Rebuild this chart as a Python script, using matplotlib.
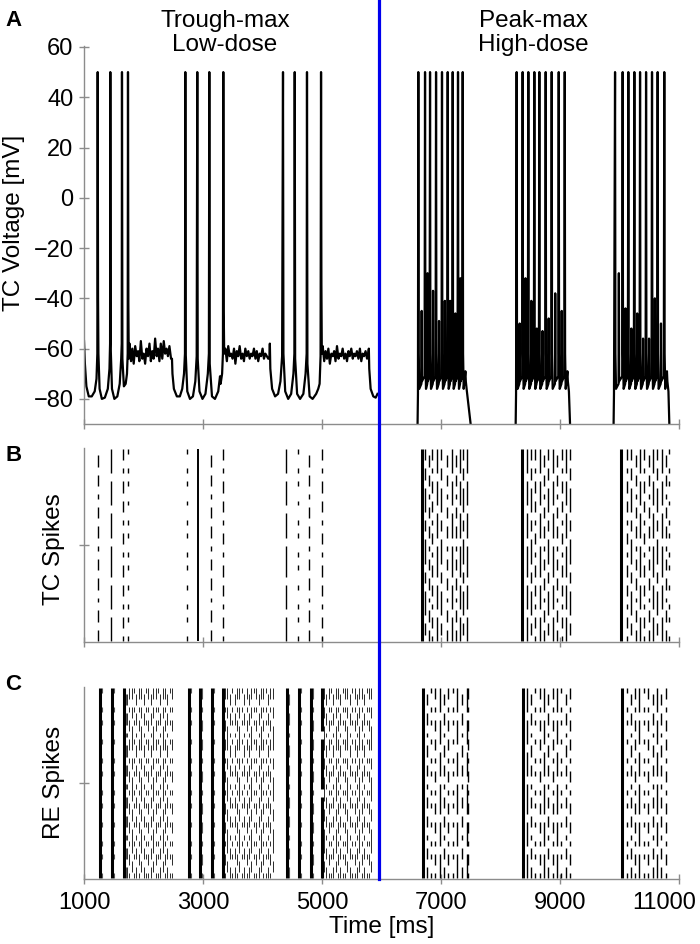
import numpy as np
import matplotlib.pyplot as plt
from matplotlib.lines import Line2D
from matplotlib.transforms import blended_transform_factory, ScaledTranslation

plt.rcParams['font.family'] = ['Liberation Sans', 'DejaVu Sans']

GREY = '#8c8c8c'
x_ticks = [1000, 3000, 5000, 7000, 9000, 11000]
v_ticks = [-80, -60, -40, -20, 0, 20, 40, 60]
switch_time = 5950          # blue line: low-dose -> high-dose

# ---------------- panel A, low dose (trough-max): TC voltage trace ----------------
low_t = [1000, 1015, 1040, 1080, 1130, 1180, 1210, 1224, 1230, 1236, 1242, 1262, 1300, 1350, 1400, 1428, 1438,
         1442, 1449, 1470, 1510, 1560, 1600, 1625, 1634, 1638, 1645, 1670, 1700, 1722, 1734, 1739, 1745, 1752,
         # plateau 1
         1765, 1790, 1812, 1835, 1860, 1885, 1908, 1930, 1955, 1980, 2003, 2027, 2050, 2075, 2100, 2123, 2147,
         2170, 2195, 2220, 2243, 2267, 2290, 2315, 2340, 2363, 2387, 2410, 2435, 2462,
         # burst 2
         2478, 2486, 2510, 2560, 2610, 2650, 2680, 2696, 2702, 2709, 2735, 2780, 2830, 2870, 2893, 2903, 2910,
         2940, 2990, 3040, 3080, 3098, 3105, 3112, 3150, 3200, 3255, 3285, 3295, 3320, 3334, 3340, 3347, 3355,
         # plateau 2
         3375, 3400, 3423, 3447, 3470, 3495, 3520, 3543, 3567, 3590, 3615, 3640, 3663, 3687, 3710, 3735, 3760,
         3783, 3807, 3830, 3855, 3880, 3903, 3927, 3950, 3975, 4000, 4023, 4047, 4070, 4095,
         # burst 3
         4115, 4122, 4130, 4160, 4210, 4260, 4300, 4328, 4343, 4350, 4380, 4430, 4480, 4518, 4534, 4540, 4547,
         4580, 4630, 4685, 4722, 4740, 4746, 4753, 4790, 4840, 4900, 4935, 4958, 4974, 4982, 4988, 4995,
         # plateau 3
         5010, 5035, 5058, 5082, 5105, 5130, 5155, 5178, 5202, 5225, 5250, 5275, 5298, 5322, 5345, 5370, 5395,
         5418, 5442, 5465, 5490, 5515, 5538, 5562, 5585, 5610, 5635, 5658, 5682, 5705, 5730, 5755,
         5775, 5785, 5792, 5815, 5860, 5900, 5930]
low_v = [-57, -66, -75, -79, -79, -77, -72, -62, 50, -40, -62, -76, -80, -79.5, -76, -68, -58,
         50, -60, -76, -80, -79, -74, -64, -58, 50, -64, -75, -74, -70, -62, 50, -42, -64,
         -58, -65, -60, -66, -59, -63, -61, -65, -57, -64, -62, -66, -60, -63, -58, -65, -61,
         -64, -56, -63, -60, -65, -58, -64, -57, -62, -60, -63, -59, -64,
         -64, -70, -76, -79, -79, -76, -70, -62, 50, -62, -77, -80, -79, -73, -63, 50, -64,
         -77, -80, -78, -70, -62, 50, -66, -79, -80, -77, -71, -74, -70, -62, 50, -45, -62,
         -60, -65, -59, -63, -62, -64, -60, -66, -61, -63, -59, -64, -62, -65, -60, -63, -61,
         -64, -62, -63, -60, -64, -61, -65, -62, -63, -60, -64, -62, -63, -64,
         -64, -58, -68, -76, -79, -78, -73, -63, 50, -62, -77, -80, -78, -70, -62, 50, -64,
         -78, -80, -78, -70, -62, 50, -66, -79, -80, -78, -76, -74, -63, 50, -34, -62,
         -59, -65, -61, -64, -60, -66, -62, -63, -61, -65, -59, -64, -62, -63, -60, -64, -62,
         -65, -61, -63, -60, -64, -62, -63, -61, -64, -60, -65, -62, -63, -61, -64,
         -62, -60, -68, -76, -79, -79.5, -78]

# ---------------- panel A, high dose (peak-max) ----------------
high_onsets = [6604, 8252, 9897]
high_offsets = [7495, 9165, 10833]
high_spikes = [[6616, 6729, 6813, 6914, 7014, 7110, 7194, 7283, 7362],
               [8268, 8369, 8464, 8565, 8649, 8756, 8857, 8975, 9076],
               [9921, 10049, 10144, 10245, 10341, 10442, 10542, 10637, 10748]]
high_partials = [[-45, -30, -37, -49, -41, -41, -46, -32],
                 [-50, -32, -41, -52, -53, -48, -38, -45],
                 [-30, -44, -52, -46, -56, -56, -40, -50]]

# ---------------- rasters ----------------
N_ROWS = 30
PATTERNS = {
    'S': '1' * 30,
    's': '1' * 30,
    'g': '1111111111' + '1110111111' + '1101111111',
    'a': '1111011110' + '1111101111' + '0111101111',
    'b': '1101101011' + '0110101101' + '1010110110',
    'c': '1011010110' + '1101011010' + '1101101011',
    'd': '1001010010' + '0101001010' + '0100101001',
    'e': '0110111101' + '1011110110' + '1111011011',
}
KIND_LW = {'S': 2.2, 'g': 2.2, 's': 1.4}

tc_low_t = [1240, 1447, 1649, 1733, 2725, 2920, 3128, 3340, 4388, 4590, 4785, 4993]
tc_low_kinds = 'bacd' + 'dsbc' + 'adbc'
tc_high_t = [6683, 6735, 6790, 6845, 6930, 7000, 7102, 7176, 7249, 7316, 7371, 7439,
             8353, 8437, 8504, 8576, 8660, 8727, 8800, 8873, 8941, 9025, 9097, 9164,
             10016, 10117, 10184, 10268, 10341, 10413, 10497, 10564, 10631, 10705, 10772, 10833]
tc_high_kinds = 'Sebcaebabaea' + 'Saecabeabcae' + 'Scebacbaeabd'

re_low_t = [1262, 1474, 1672, 2758, 2949, 3150, 3330, 4410, 4612, 4807, 4992]
re_low_kinds = 'SSS' + 'SSSS' + 'SSSg'
re_faint_t = [1300, 1508, 1700, 2790, 2980, 3180, 4440, 4645, 4840]
re_faint_kinds = 'ddbdcdbdc'
re_tonic_t = [1722, 1760, 1801, 1843, 1880, 1921, 1962, 2001, 2043, 2082, 2121, 2163, 2204, 2242, 2281,
              2322, 2364, 2402, 2441, 2480,
              3372, 3410, 3452, 3491, 3530, 3572, 3611, 3650, 3692, 3731, 3770, 3812, 3851, 3890, 3932,
              3971, 4010, 4052, 4091, 4130, 4168,
              5028, 5066, 5108, 5147, 5186, 5228, 5267, 5306, 5348, 5387, 5426, 5468, 5507, 5546, 5588,
              5627, 5666, 5708, 5747, 5786, 5825]
re_tonic_kinds = 'bcedbcebdcbecdbecbdc' + 'cebdbcedbcbedcbecdbce' + 'ebcdbecbdcebdcbecbdce'
re_high_t = [6701, 6756, 6823, 6896, 6981, 7048, 7120, 7204, 7271, 7344, 7428, 7455,
             8380, 8447, 8510, 8577, 8661, 8728, 8800, 8873, 8941, 9014, 9098, 9164,
             10043, 10117, 10184, 10257, 10329, 10408, 10480, 10554, 10621, 10694, 10773]
re_high_kinds = 'Sbdcabcdabac' + 'Sabdcabcadbc' + 'Sdbcadcbabc'


def raster(ax, times, kinds, lw=None, color='black'):
    for t, k in zip(times, kinds):
        pat = PATTERNS[k]
        starts, ends = [], []
        i = 0
        while i < len(pat):
            if pat[i] == '1':
                j = i
                while j < len(pat) and pat[j] == '1':
                    j += 1
                starts.append(i + 0.12)
                ends.append(j - 0.12)
                i = j
            else:
                i += 1
        ax.vlines([t] * len(starts), starts, ends, colors=color,
                  lw=lw if lw is not None else KIND_LW.get(k, 1.0))


def style(ax):
    for s in ('top', 'right'):
        ax.spines[s].set_visible(False)
    for s in ('left', 'bottom'):
        ax.spines[s].set_color(GREY)
        ax.spines[s].set_linewidth(1)
    ax.tick_params(direction='inout', length=7, width=1, color=GREY, labelsize=17, pad=4)
    ax.set_xlim(1000, 11000)
    ax.set_xticks(x_ticks)


fig = plt.figure(figsize=(7, 9.44), dpi=100)
axA = fig.add_axes([0.12, 0.5508, 0.8504, 0.4008])
axB = fig.add_axes([0.12, 0.3199, 0.8504, 0.2055])
axC = fig.add_axes([0.12, 0.0689, 0.8504, 0.2033])

# panel A
axA.plot(low_t, low_v, color='black', lw=1.6)
for on, off, spikes, parts in zip(high_onsets, high_offsets, high_spikes, high_partials):
    seg_t = [on - 6, on + 6]
    seg_v = [-100, -78]
    for i, s in enumerate(spikes):
        seg_t += [s, s + 6, s + 16]
        seg_v += [50, -62, -76]
        if i < len(parts):
            nxt = spikes[i + 1]
            mid = (s + nxt) / 2
            seg_t += [mid - 5, mid, mid + 5, nxt - 8]
            seg_v += [-74, parts[i], -73, -71]
    last = spikes[-1]
    seg_t += [last + 45, last + 52, last + 70, off, off + 8]
    seg_v += [-69, -73, -77, -90, -100]
    axA.plot(seg_t, seg_v, color='black', lw=1.6)

style(axA)
axA.set_ylim(-90, 60.5)
axA.set_yticks(v_ticks)
axA.set_xticklabels([])
axA.set_ylabel('TC Voltage [mV]', fontsize=17.5)
axA.yaxis.set_label_coords(-0.099, 0.531)
axA.text(3370, 65.5, 'Trough-max\nLow-dose', ha='center', va='center', fontsize=17.5,
         linespacing=1.1, clip_on=False)
axA.text(8545, 65.5, 'Peak-max\nHigh-dose', ha='center', va='center', fontsize=17.5,
         linespacing=1.1, clip_on=False)

# panel B
raster(axB, tc_low_t, tc_low_kinds)
raster(axB, tc_high_t, tc_high_kinds)
style(axB)
axB.set_ylim(0, N_ROWS)
axB.set_yticks([N_ROWS / 2])
axB.set_yticklabels([])
axB.set_xticklabels([])
axB.set_ylabel('TC Spikes', fontsize=17.5)
axB.yaxis.set_label_coords(-0.032, 0.48)

# panel C
raster(axC, re_tonic_t, re_tonic_kinds, lw=0.7, color='#2a2a2a')
raster(axC, re_faint_t, re_faint_kinds, lw=0.8, color='#555555')
raster(axC, re_low_t, re_low_kinds)
raster(axC, re_high_t, re_high_kinds)
style(axC)
axC.tick_params(axis='x', pad=6)
axC.set_ylim(0, N_ROWS)
axC.set_yticks([N_ROWS / 2])
axC.set_yticklabels([])
axC.set_xticklabels([str(x) for x in x_ticks])
# last label pulled left so it stays inside the figure
last_lbl = axC.get_xticklabels()[-1]
last_lbl.set_transform(last_lbl.get_transform() + ScaledTranslation(-0.15, 0, fig.dpi_scale_trans))
axC.set_ylabel('RE Spikes', fontsize=17.5)
axC.yaxis.set_label_coords(-0.032, 0.505)
axC.set_xlabel('Time [ms]', fontsize=17.5, labelpad=1)

# vertical separator spanning the figure
trans = blended_transform_factory(axC.transData, fig.transFigure)
fig.add_artist(Line2D([switch_time, switch_time], [0.0689, 1.0], transform=trans,
                      color='#0000ee', lw=2.3))

fig.text(0.008, 0.978, 'A', fontsize=16, fontweight='bold', va='center')
fig.text(0.008, 0.517, 'B', fontsize=16, fontweight='bold', va='center')
fig.text(0.008, 0.2754, 'C', fontsize=16, fontweight='bold', va='center')

fig.savefig('out.png', dpi=100)
